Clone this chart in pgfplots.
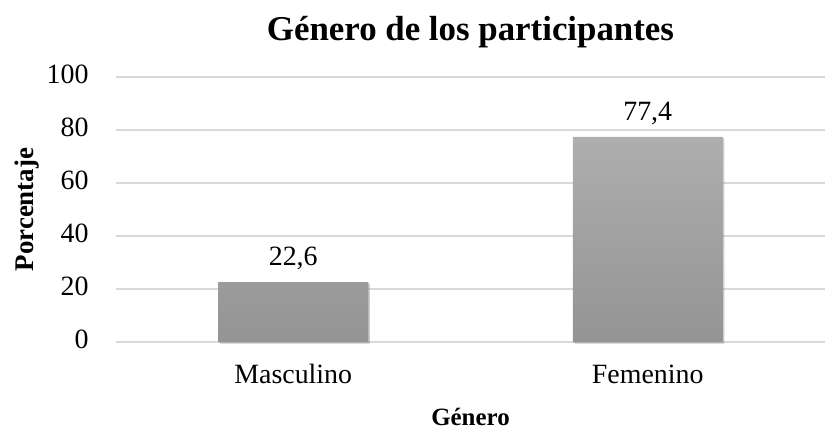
\documentclass[border=0pt]{standalone}
\usepackage{fontspec}
\setmainfont{Liberation Serif}
\usepackage{pgfplots}
\pgfplotsset{compat=1.18}
\usetikzlibrary{shadows}
\definecolor{gridc}{HTML}{D9D9D9}
\definecolor{bartop}{HTML}{AEAEAE}
\definecolor{barbot}{HTML}{949494}
\begin{document}
\begin{tikzpicture}
\useasboundingbox (-116bp,-90bp) rectangle (709bp,342bp);
\begin{axis}[
  at={(0,0)}, anchor=south west,
  scale only axis,
  width=709bp, height=265bp,
  xmin=-0.5, xmax=1.5,
  ymin=0, ymax=100,
  ytick={0,20,40,60,80,100},
  xtick={0,1},
  xticklabels={Masculino,Femenino},
  axis line style={draw=none},
  major tick length=0pt,
  ymajorgrids,
  grid style={gridc, line width=1.3bp},
  /pgf/number format/assume math mode=true,
  typeset ticklabels with strut,
  tick label style={font=\fontsize{28}{32}\selectfont},
  yticklabel style={xshift=-24bp},
  xticklabel style={yshift=-16bp},
  xlabel={\textbf{Género}},
  ylabel={\textbf{Porcentaje}},
  xlabel style={font=\fontsize{25}{29}\selectfont, yshift=-8bp},
  ylabel style={font=\fontsize{27}{31}\selectfont, yshift=1bp},
  title={\textbf{Género de los participantes}},
  title style={font=\fontsize{35}{39}\selectfont, yshift=20bp},
  nodes near coords,
  nodes near coords style={font=\fontsize{28}{32}\selectfont, text=black, yshift=9bp,
    /pgf/number format/.cd, fixed, fixed zerofill, precision=1, use comma, assume math mode=true},
  clip=false,
]
\addplot[ybar, bar width=150bp, draw=none, top color=bartop, bottom color=barbot,
  drop shadow={opacity=0.25, shadow xshift=1.5bp, shadow yshift=-1.5bp}]
  coordinates {(0,22.6) (1,77.4)};
\end{axis}
\end{tikzpicture}
\end{document}
